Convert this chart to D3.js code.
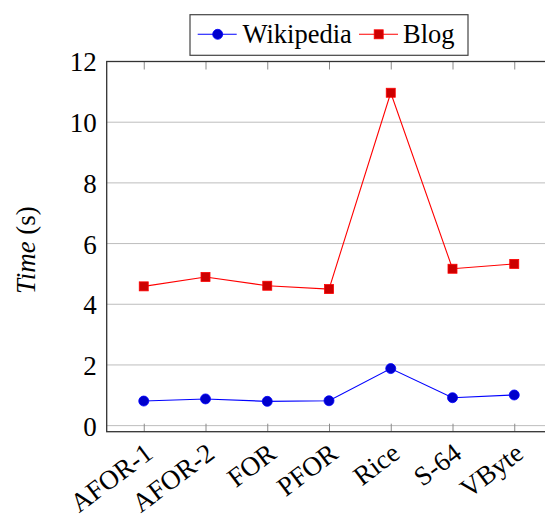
<!DOCTYPE html>
<html>
<head>
<meta charset="utf-8">
<script src="https://cdn.jsdelivr.net/npm/d3@7"></script>
<style>
	body { margin: 0; background: #fff; }
	text { font-family: "Liberation Serif", "Times New Roman", serif; fill: #000; }
</style>
</head>
<body>
<div id="chart"></div>
<script>
var categories = ["AFOR-1", "AFOR-2", "FOR", "PFOR", "Rice", "S-64", "VByte"];
var wikipedia = [0.81, 0.88, 0.80, 0.82, 1.88, 0.92, 1.01];
var blog = [4.59, 4.90, 4.61, 4.50, 10.97, 5.17, 5.33];
var yTicks = [0, 2, 4, 6, 8, 10, 12];
var seriesNames = ["Wikipedia", "Blog"];

var width = 545, height = 517;
var plotLeft = 106.7, plotRight = 551.3, plotTop = 61.5, plotBottom = 431.7;

var svg = d3.select("#chart").append("svg").attr("width", width).attr("height", height);

var x = d3.scalePoint()
	.domain(categories)
	.range([plotLeft, plotRight])
	.padding(0.6);

var y = d3.scaleLinear()
	.domain([-0.2, 12])
	.range([plotBottom, plotTop]);

// grid
svg.append("g").selectAll("line").data(yTicks).enter().append("line")
	.attr("x1", plotLeft).attr("x2", plotRight)
	.attr("y1", function(d){ return y(d); }).attr("y2", function(d){ return y(d); })
	.attr("stroke", "#bdbdbd").attr("stroke-width", 1);

// axes via d3 axis, ticks drawn inward
var yAxis = d3.axisLeft(y).tickValues(yTicks).tickSize(0).tickPadding(10);
var gy = svg.append("g").attr("transform", "translate(" + plotLeft + ",0)").call(yAxis);
gy.select(".domain").remove();
gy.selectAll("text").attr("font-size", 27).attr("font-family", "Liberation Serif").attr("dy", "0.35em");

var xAxis = d3.axisBottom(x).tickSize(-8).tickFormat("");
var gx = svg.append("g").attr("transform", "translate(0," + plotBottom + ")").call(xAxis);
gx.select(".domain").remove();
gx.selectAll(".tick line").attr("stroke", "#8a8a8a");

var xTop = d3.axisTop(x).tickSize(-8).tickFormat("");
var gt = svg.append("g").attr("transform", "translate(0," + plotTop + ")").call(xTop);
gt.select(".domain").remove();
gt.selectAll(".tick line").attr("stroke", "#8a8a8a");

// rotated category labels
svg.append("g").selectAll("text").data(categories).enter().append("text")
	.attr("transform", function(d){ return "translate(" + (x(d) + 7) + "," + (plotBottom + 20) + ") rotate(-37)"; })
	.attr("text-anchor", "end")
	.attr("dominant-baseline", "middle")
	.attr("font-size", 27)
	.text(function(d){ return d; });

// frame
svg.append("rect")
	.attr("x", plotLeft).attr("y", plotTop)
	.attr("width", plotRight - plotLeft).attr("height", plotBottom - plotTop)
	.attr("fill", "none").attr("stroke", "#333").attr("stroke-width", 1.3);

// y label
var yl = svg.append("text")
	.attr("transform", "translate(35,250) rotate(-90)")
	.attr("text-anchor", "middle")
	.attr("font-size", 27);
yl.append("tspan").attr("font-style", "italic").text("Time");
yl.append("tspan").text(" (s)");

// lines
var line = d3.line()
	.x(function(d, i){ return x(categories[i]); })
	.y(function(d){ return y(d); });

svg.append("path").datum(wikipedia)
	.attr("d", line).attr("fill", "none").attr("stroke", "#0000ff").attr("stroke-width", 1.1);
svg.append("path").datum(blog)
	.attr("d", line).attr("fill", "none").attr("stroke", "#ff0000").attr("stroke-width", 1.1);

svg.append("g").selectAll("circle").data(wikipedia).enter().append("circle")
	.attr("cx", function(d, i){ return x(categories[i]); })
	.attr("cy", function(d){ return y(d); })
	.attr("r", 5)
	.attr("fill", "#0000cc").attr("stroke", "#0000ff").attr("stroke-width", 0.8);

svg.append("g").selectAll("rect").data(blog).enter().append("rect")
	.attr("x", function(d, i){ return x(categories[i]) - 4.5; })
	.attr("y", function(d){ return y(d) - 4.5; })
	.attr("width", 9).attr("height", 9)
	.attr("fill", "#cc0000").attr("stroke", "#ff0000").attr("stroke-width", 0.8);

// legend
var lg = svg.append("g");
lg.append("rect")
	.attr("x", 190).attr("y", 14.7).attr("width", 278).attr("height", 40.6)
	.attr("fill", "#fff").attr("stroke", "#444").attr("stroke-width", 1.2);
var ly = 34.3;
lg.append("line").attr("x1", 197.7).attr("x2", 236.7).attr("y1", ly).attr("y2", ly)
	.attr("stroke", "#0000ff").attr("stroke-width", 1.1);
lg.append("circle").attr("cx", 217.7).attr("cy", ly).attr("r", 5)
	.attr("fill", "#0000cc").attr("stroke", "#0000ff").attr("stroke-width", 0.8);
lg.append("text").attr("x", 242.5).attr("y", ly).attr("dy", "0.33em")
	.attr("font-size", 26.5).text(seriesNames[0]);
lg.append("line").attr("x1", 359).attr("x2", 398).attr("y1", ly).attr("y2", ly)
	.attr("stroke", "#ff0000").attr("stroke-width", 1.1);
lg.append("rect").attr("x", 378.7 - 4.5).attr("y", ly - 4.5).attr("width", 9).attr("height", 9)
	.attr("fill", "#cc0000").attr("stroke", "#ff0000").attr("stroke-width", 0.8);
lg.append("text").attr("x", 403).attr("y", ly).attr("dy", "0.33em")
	.attr("font-size", 26.5).text(seriesNames[1]);
</script>
</body>
</html>
